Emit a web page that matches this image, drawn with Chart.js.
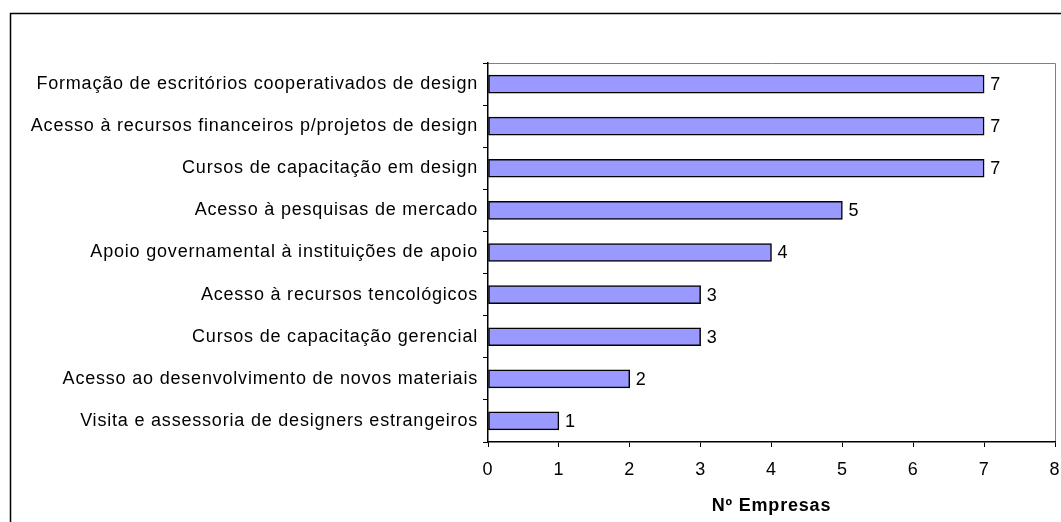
<!DOCTYPE html>
<html>
<head>
<meta charset="utf-8">
<script src="https://cdn.jsdelivr.net/npm/chart.js@4/dist/chart.umd.min.js"></script>
<style>
html,body{margin:0;padding:0;background:#fff;}
#wrap{width:1061px;height:522px;position:relative;}
</style>
</head>
<body>
<div id="wrap"><canvas id="chart" width="1061" height="522"></canvas></div>
<script>
const categories = [
  "Formação de escritórios cooperativados de design",
  "Acesso à recursos financeiros p/projetos de design",
  "Cursos de capacitação em design",
  "Acesso à pesquisas de mercado",
  "Apoio governamental à instituições de apoio",
  "Acesso à recursos tencológicos",
  "Cursos de capacitação gerencial",
  "Acesso ao desenvolvimento de novos materiais",
  "Visita e assessoria de designers estrangeiros"
];
const empresas = [7, 7, 7, 5, 4, 3, 3, 2, 1];
const xTicks = [0, 1, 2, 3, 4, 5, 6, 7, 8];

const fontFamily = "'Liberation Sans', Arial, sans-serif";
const fontSize = 18;
const spacing = '0.8px';

const frame = {
  id: 'frame',
  beforeDraw(chart){
    const c = chart.ctx, a = chart.chartArea;
    c.letterSpacing = spacing;
    c.save();
    c.strokeStyle = '#000';
    c.lineWidth = 1.5;
    c.beginPath();
    c.moveTo(10.5, 530);
    c.lineTo(10.5, 13.5);
    c.lineTo(1070, 13.5);
    c.stroke();
    c.strokeStyle = '#808080';
    c.lineWidth = 1;
    c.beginPath();
    c.moveTo(a.left, a.top + 0.5);
    c.lineTo(a.right + 0.5, a.top + 0.5);
    c.lineTo(a.right + 0.5, a.bottom);
    c.stroke();
    c.restore();
  },
  afterDatasetsDraw(chart){
    const c = chart.ctx;
    const meta = chart.getDatasetMeta(0);
    c.save();
    c.fillStyle = '#000';
    c.font = fontSize + 'px ' + fontFamily;
    c.textBaseline = 'middle';
    meta.data.forEach((bar, i) => {
      c.fillText(String(empresas[i]), bar.x + 6, bar.y + 1);
    });
    c.restore();
  }
};

new Chart(document.getElementById('chart'), {
  type: 'bar',
  data: {
    labels: categories,
    datasets: [{
      data: empresas,
      backgroundColor: '#9999ff',
      borderColor: '#000',
      borderWidth: 1.5,
      borderSkipped: false,
      barThickness: 18
    }]
  },
  options: {
    indexAxis: 'y',
    responsive: false,
    animation: false,
    layout: { padding: { top: 63, right: 6, left: 0, bottom: 0 } },
    plugins: { legend: { display: false }, tooltip: { enabled: false } },
    scales: {
      y: {
        offset: true,
        afterFit(scale){ scale.width = 488; scale.paddingTop = 0; scale.paddingBottom = 0; },
        grid: { offset: true, drawOnChartArea: false, tickLength: 5, color: '#000', tickWidth: 1 },
        border: { color: '#000', width: 1.5 },
        ticks: { color: '#000', font: { size: fontSize, family: fontFamily }, padding: 5 }
      },
      x: {
        min: 0,
        max: 8,
        afterFit(scale){ scale.height = 80; scale.paddingLeft = 0; scale.paddingRight = 0; },
        afterBuildTicks(scale){ scale.ticks = xTicks.map(v => ({ value: v })); },
        grid: { drawOnChartArea: false, tickLength: 5, color: '#000', tickWidth: 1 },
        border: { color: '#000', width: 1.5 },
        ticks: { color: '#000', font: { size: fontSize, family: fontFamily }, padding: 12 },
        title: { display: true, text: 'Nº Empresas', color: '#000', font: { size: 18, weight: 'bold', family: fontFamily }, padding: { top: 10, bottom: 5 } }
      }
    }
  },
  plugins: [frame]
});
</script>
</body>
</html>
